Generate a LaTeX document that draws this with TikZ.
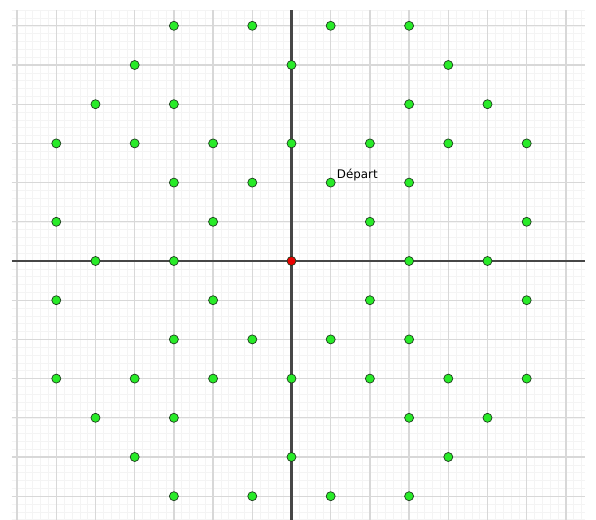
\documentclass[tikz,border=0pt]{standalone}
\usepackage{fontspec}
\setsansfont{DejaVu Sans}
\usetikzlibrary{positioning}
\definecolor{minorgray}{RGB}{244,244,244}
\definecolor{majorgray}{RGB}{216,216,216}
\definecolor{axisgray}{RGB}{70,70,70}
\definecolor{dotgreen}{RGB}{40,235,40}
\definecolor{dotred}{RGB}{235,0,0}
\definecolor{dotedge}{RGB}{30,60,30}

\begin{document}
\begin{tikzpicture}[
    dot/.style={draw=dotedge, circle, fill=dotgreen, inner sep=0pt, minimum size=0.23cm, line width=0.5pt},
    origin/.style={dot, fill=dotred}
  ]
    \useasboundingbox (-7.436,-6.607) rectangle (7.768,6.658);
    \fill[white] (-7.436,-6.607) rectangle (7.768,6.658);

    % grid and axes
    \draw[minorgray, line width=0.4pt, step=0.2] (-7.13,-6.607) grid (7.49,6.40);
    \draw[majorgray, line width=0.9pt, step=1] (-7.13,-6.607) grid (7.49,6.40);
    \draw[axisgray, line width=1.6pt] (-7.13,0) -- (7.49,0);
    \draw[axisgray, line width=1.6pt] (0,-6.607) -- (0,6.40);

    % reachable points
    \foreach \x/\y in {-3/6,-1/6,1/6,3/6, -4/5,0/5,4/5, -5/4,-3/4,3/4,5/4,
        -6/3,-4/3,-2/3,0/3,2/3,4/3,6/3, -3/2,-1/2,1/2,3/2, -6/1,-2/1,2/1,6/1,
        -5/0,-3/0,3/0,5/0, -6/-1,-2/-1,2/-1,6/-1, -3/-2,-1/-2,1/-2,3/-2,
        -6/-3,-4/-3,-2/-3,0/-3,2/-3,4/-3,6/-3, -5/-4,-3/-4,3/-4,5/-4,
        -4/-5,0/-5,4/-5, -3/-6,-1/-6,1/-6,3/-6}
        \node[dot] (d\x\y) at (\x,\y) {};
    \node[origin] (o) at (0,0) {};

    \node[right=0.03cm of d12, yshift=0.19cm, inner sep=0pt, font=\sffamily\fontsize{8.6}{10}\selectfont] (depart) {Départ};
\end{tikzpicture}
\end{document}
